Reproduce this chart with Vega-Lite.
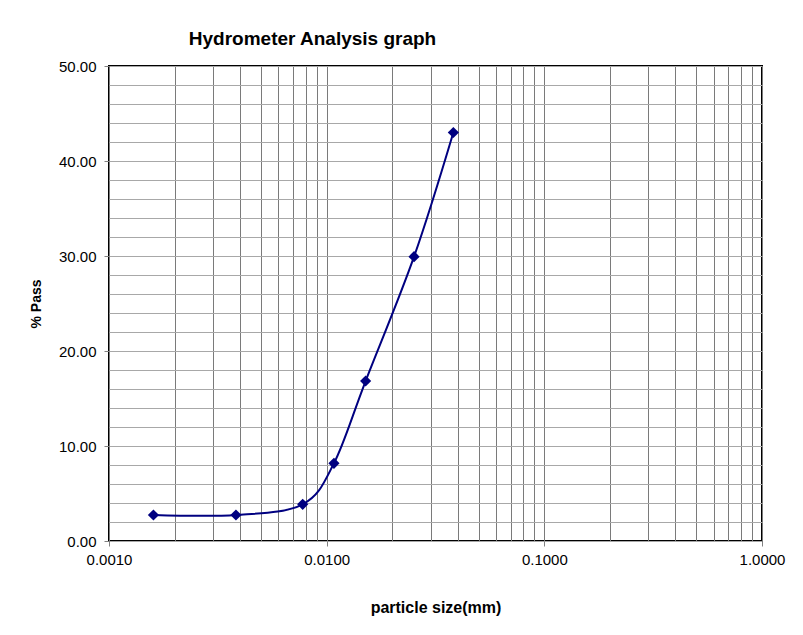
{
  "$schema": "https://vega.github.io/schema/vega-lite/v6.json",
  "width": 653,
  "height": 475,
  "autosize": {"type": "none"},
  "padding": {"left": 109, "top": 66, "right": 41, "bottom": 94},
  "background": "white",
  "title": {
    "text": "Hydrometer Analysis graph",
    "anchor": "middle",
    "frame": "group",
    "dx": -123,
    "offset": 10,
    "font": "Liberation Sans",
    "fontSize": 19,
    "fontWeight": "bold",
    "color": "black"
  },
  "config": {
    "view": {"stroke": "black", "strokeWidth": 2},
    "axis": {
      "labelFont": "Liberation Sans",
      "labelFontSize": 15,
      "labelColor": "black",
      "titleFont": "Liberation Sans",
      "titleFontWeight": "bold",
      "titleColor": "black",
      "domain": false,
      "tickColor": "#808080",
      "tickSize": 5,
      "gridWidth": 1
    }
  },
  "data": {
    "values": [
      {"size": 0.0016, "pass": 2.74},
      {"size": 0.00383, "pass": 2.74},
      {"size": 0.00776, "pass": 3.86},
      {"size": 0.0108, "pass": 8.18},
      {"size": 0.0151, "pass": 16.84},
      {"size": 0.0252, "pass": 29.93},
      {"size": 0.0382, "pass": 43.0}
    ]
  },
  "encoding": {
    "x": {
      "field": "size",
      "type": "quantitative",
      "scale": {"type": "log", "domain": [0.001, 1], "nice": false},
      "axis": {
        "title": "particle size(mm)",
        "titleFontSize": 16,
        "titlePadding": 32,
        "labelPadding": 6,
        "labelFlush": false,
        "values": [0.001, 0.002, 0.003, 0.004, 0.005, 0.006, 0.007, 0.008, 0.009,
                   0.01, 0.02, 0.03, 0.04, 0.05, 0.06, 0.07, 0.08, 0.09,
                   0.1, 0.2, 0.3, 0.4, 0.5, 0.6, 0.7, 0.8, 0.9, 1],
        "labelExpr": "abs(log(datum.value)/LN10 - round(log(datum.value)/LN10)) < 1e-6 ? format(datum.value, '.4f') : ''",
        "tickOpacity": {"condition": {"test": "abs(log(datum.value)/LN10 - round(log(datum.value)/LN10)) < 1e-6", "value": 1}, "value": 0},
        "gridColor": "#7a7a7a",
        "labelOverlap": false
      }
    },
    "y": {
      "field": "pass",
      "type": "quantitative",
      "scale": {"domain": [0, 50], "nice": false},
      "axis": {
        "title": "% Pass",
        "titleFontSize": 14,
        "titlePadding": 15,
        "labelPadding": 8,
        "labelFlush": false,
        "values": [0, 2, 4, 6, 8, 10, 12, 14, 16, 18, 20, 22, 24, 26, 28, 30, 32, 34, 36, 38, 40, 42, 44, 46, 48, 50],
        "labelExpr": "datum.value % 10 === 0 ? format(datum.value, '.2f') : ''",
        "tickOpacity": {"condition": {"test": "datum.value % 10 === 0", "value": 1}, "value": 0},
        "gridColor": "#a8a8a8",
        "labelOverlap": false
      }
    }
  },
  "layer": [
    {
      "mark": {"type": "line", "interpolate": "cardinal", "color": "#000080", "strokeWidth": 2}
    },
    {
      "mark": {"type": "point", "shape": "diamond", "filled": true, "color": "#000080", "size": 125, "opacity": 1}
    }
  ]
}
